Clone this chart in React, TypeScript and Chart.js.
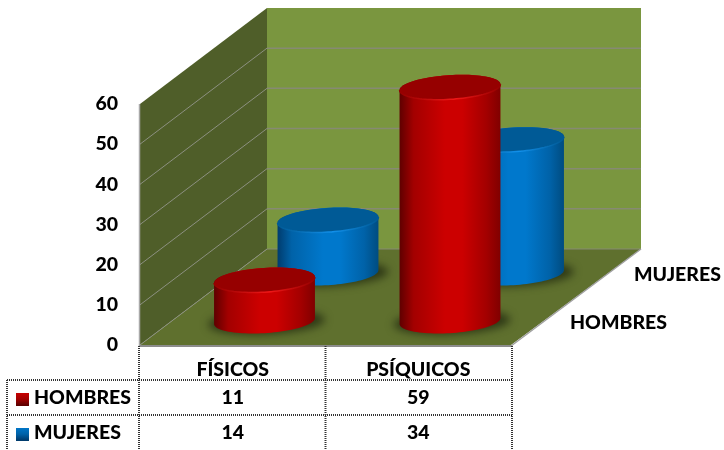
import React, { useEffect, useRef } from "react";
import { Chart, registerables } from "chart.js";

Chart.register(...registerables);

const categories = ["FÍSICOS", "PSÍQUICOS"];
const seriesNames = ["HOMBRES", "MUJERES"];
const hombres = [11, 59];
const mujeres = [14, 34];
const axisTicks = [0, 60, 10];

const FONT = "Lato, 'Open Sans', sans-serif";
const WEIGHT = "900";
const SIZE = 19.5;
const SKEW_X = 127;
const SKEW_X_RIGHT = 130;
const SKEW_Y = 96;
const CAP_HALF_H = 12.5;
const CAP_SHEAR = 12;
const CAP_DROP = 3.2;

const palette = [
  { dark: "#5f0000", mid: "#a30000", light: "#cc0000", edge: "#800000", cap: "#960000", rim: "#f01818" },
  { dark: "#003c6e", mid: "#0062a8", light: "#0078cc", edge: "#004c80", cap: "#005a96", rim: "#1290ea" },
];
const rowDepth = [0.25, 0.75];

type Ctx = CanvasRenderingContext2D;

function ellipsePoint(cx: number, cy: number, a: number, t: number) {
  return [cx + a * Math.cos(t) + CAP_SHEAR * Math.sin(t), cy - CAP_HALF_H * Math.sin(t)];
}

function traceArc(ctx: Ctx, cx: number, cy: number, a: number, from: number, to: number, move: boolean) {
  const steps = 48;
  for (let i = 0; i <= steps; i++) {
    const t = from + ((to - from) * i) / steps;
    const [x, y] = ellipsePoint(cx, cy, a, t);
    if (i === 0 && move) ctx.moveTo(x, y);
    else ctx.lineTo(x, y);
  }
}

function drawCylinder(ctx: Ctx, cx: number, topY: number, baseY: number, radius: number, colors: typeof palette[0]) {
  const a = Math.sqrt(radius * radius - CAP_SHEAR * CAP_SHEAR);
  const phi = Math.atan2(CAP_SHEAR, a);

  // Soft contact shadow on the floor
  ctx.save();
  ctx.filter = "blur(4px)";
  ctx.fillStyle = "rgba(30,38,14,0.75)";
  ctx.beginPath();
  traceArc(ctx, cx + 2, baseY + 1, a + 8, 0, Math.PI * 2, true);
  ctx.fill();
  ctx.restore();

  // Cylinder wall
  const side = ctx.createLinearGradient(cx - radius, 0, cx + radius, 0);
  side.addColorStop(0, colors.dark);
  side.addColorStop(0.14, colors.mid);
  side.addColorStop(0.45, colors.light);
  side.addColorStop(0.62, colors.light);
  side.addColorStop(0.86, colors.mid);
  side.addColorStop(1, colors.edge);
  ctx.fillStyle = side;
  ctx.beginPath();
  traceArc(ctx, cx, baseY, a, phi, phi - Math.PI, true);
  traceArc(ctx, cx, topY, a, phi + Math.PI, phi, false);
  ctx.closePath();
  ctx.fill();

  // Top cap with a bright front rim
  ctx.fillStyle = colors.cap;
  ctx.beginPath();
  traceArc(ctx, cx, topY, a, 0, Math.PI * 2, true);
  ctx.fill();
  const rim = ctx.createLinearGradient(cx - radius, 0, cx + radius, 0);
  rim.addColorStop(0, colors.cap);
  rim.addColorStop(0.55, colors.rim);
  rim.addColorStop(1, colors.cap);
  ctx.strokeStyle = rim;
  ctx.lineWidth = 1.5;
  ctx.beginPath();
  traceArc(ctx, cx, topY, a, phi, phi - Math.PI, true);
  ctx.stroke();
}

const scenePlugin = {
  id: "scene",
  beforeDatasetsDraw(chart: Chart) {
    const { ctx } = chart;
    const x = chart.scales.x;
    const y = chart.scales.y;
    const left = x.left;
    const right = x.right;
    const bottom = y.bottom;
    const top = y.top;
    const backL = left + SKEW_X;
    const backR = right + SKEW_X_RIGHT;

    const poly = (pts: number[][], fill: string) => {
      ctx.fillStyle = fill;
      ctx.beginPath();
      pts.forEach(([px, py], i) => (i ? ctx.lineTo(px, py) : ctx.moveTo(px, py)));
      ctx.closePath();
      ctx.fill();
    };
    const line = (x1: number, y1: number, x2: number, y2: number, color: string, w = 1) => {
      ctx.strokeStyle = color;
      ctx.lineWidth = w;
      ctx.beginPath();
      ctx.moveTo(x1, y1);
      ctx.lineTo(x2, y2);
      ctx.stroke();
    };

    ctx.save();
    // Back wall, side wall and floor
    poly([[backL, top - SKEW_Y], [backR, top - SKEW_Y], [backR, bottom - SKEW_Y], [backL, bottom - SKEW_Y]], "#7a963f");
    poly([[left, top], [backL, top - SKEW_Y], [backL, bottom - SKEW_Y], [left, bottom]], "#4f5e29");
    poly([[left, bottom], [right, bottom], [backR, bottom - SKEW_Y], [backL, bottom - SKEW_Y]], "#5f702e");

    // Gridlines folded across both walls
    for (let v = axisTicks[0]; v <= axisTicks[1]; v += axisTicks[2]) {
      const py = y.getPixelForValue(v);
      if (v < axisTicks[1]) line(left, py, backL, py - SKEW_Y, "#8c9080");
      if (v > axisTicks[0] && v < axisTicks[1]) line(backL, py - SKEW_Y, backR, py - SKEW_Y, "#868a72", 1.5);
    }
    line(backL, bottom - SKEW_Y, backR, bottom - SKEW_Y, "#868a72");

    // Axis edges
    line(left - 0.5, top, left - 0.5, bottom + 1, "#a8a8a8", 1.5);
    line(left, bottom + 1, right, bottom + 1, "#8c8c8c", 2);
    line(right, bottom + 1, backR, bottom - SKEW_Y, "#a0a0a0", 1.5);
    ctx.restore();
  },
  afterDatasetsDraw(chart: Chart) {
    const { ctx } = chart;
    // Back row first so the front row overlaps it
    [1, 0].forEach((ds) => {
      const meta = chart.getDatasetMeta(ds);
      const dx = SKEW_X * rowDepth[ds];
      const dy = SKEW_Y * rowDepth[ds];
      meta.data.forEach((bar: any) => {
        drawCylinder(ctx, bar.x + dx, bar.y - dy + CAP_DROP, bar.base - dy, bar.width / 2, palette[ds]);
      });
    });
  },
  afterDraw(chart: Chart) {
    const { ctx } = chart;
    const x = chart.scales.x;
    const left = x.left;
    const right = x.right;
    const mid = x.getPixelForValue(0.5);
    const tableLeft = 7;
    const axisY = chart.scales.y.bottom + 1;
    const rowLines = [380, 415];
    const rowCentres = [398, 433];
    const endY = 450;

    ctx.save();
    ctx.strokeStyle = "#333";
    ctx.lineWidth = 2;
    ctx.setLineDash([1, 1]);
    const seg = (x1: number, y1: number, x2: number, y2: number) => {
      ctx.beginPath();
      ctx.moveTo(x1, y1);
      ctx.lineTo(x2, y2);
      ctx.stroke();
    };
    [left - 1, mid, right + 1].forEach((lx) => seg(lx, axisY, lx, endY));
    seg(tableLeft, rowLines[0], tableLeft, endY);
    rowLines.forEach((ly) => seg(tableLeft, ly, right + 1, ly));
    ctx.setLineDash([]);

    ctx.fillStyle = "#000";
    ctx.font = `${WEIGHT} ${SIZE}px ${FONT}`;
    ctx.textBaseline = "middle";
    seriesNames.forEach((name, row) => {
      const cy = rowCentres[row];
      // Legend key
      const key = ctx.createLinearGradient(0, cy - 6, 0, cy + 7);
      key.addColorStop(0, palette[row].light);
      key.addColorStop(0.55, palette[row].mid);
      key.addColorStop(1, palette[row].dark);
      ctx.fillStyle = key;
      ctx.fillRect(16, cy - 5, 13, 13);

      ctx.fillStyle = "#000";
      ctx.textAlign = "left";
      ctx.fillText(name, 34, cy);
      ctx.textAlign = "center";
      chart.data.datasets[row].data.forEach((v, i) => {
        ctx.fillText(String(v), x.getPixelForValue(i), cy);
      });
    });

    // Depth-axis series names
    ctx.textAlign = "left";
    ctx.fillText(seriesNames[0], 570, 323);
    ctx.fillText(seriesNames[1], 634, 275);
    ctx.restore();
  },
};

export default function App() {
  const ref = useRef<HTMLCanvasElement>(null);

  useEffect(() => {
    const font = { family: FONT, size: SIZE, weight: WEIGHT };
    const chart = new Chart(ref.current!, {
      type: "bar",
      data: {
        labels: categories,
        datasets: [
          { label: seriesNames[0], data: hombres, backgroundColor: "rgba(0,0,0,0)" },
          { label: seriesNames[1], data: mujeres, backgroundColor: "rgba(0,0,0,0)" },
        ],
      },
      options: {
        animation: false,
        responsive: false,
        layout: { padding: { top: 104, right: 213, bottom: 0, left: 0 } },
        datasets: { bar: { grouped: false, categoryPercentage: 0.544, barPercentage: 1 } },
        plugins: { legend: { display: false }, tooltip: { enabled: false } },
        scales: {
          x: {
            grid: { display: false, drawTicks: false },
            border: { display: false },
            ticks: { color: "#000", padding: 13, maxRotation: 0, font },
            afterFit: (s: any) => {
              s.height = 105;
            },
          },
          y: {
            min: axisTicks[0],
            max: axisTicks[1],
            grid: { display: false, drawTicks: false },
            border: { display: false },
            ticks: { stepSize: axisTicks[2], color: "#000", padding: 22, font },
            afterFit: (s: any) => {
              s.width = 140;
            },
          },
        },
      },
      plugins: [scenePlugin],
    } as any);
    return () => chart.destroy();
  }, []);

  return (
    <div style={{ position: "absolute", left: 0, top: 0, width: 724, height: 450, background: "#fff" }}>
      <canvas ref={ref} width={724} height={450} style={{ display: "block" }} />
    </div>
  );
}
